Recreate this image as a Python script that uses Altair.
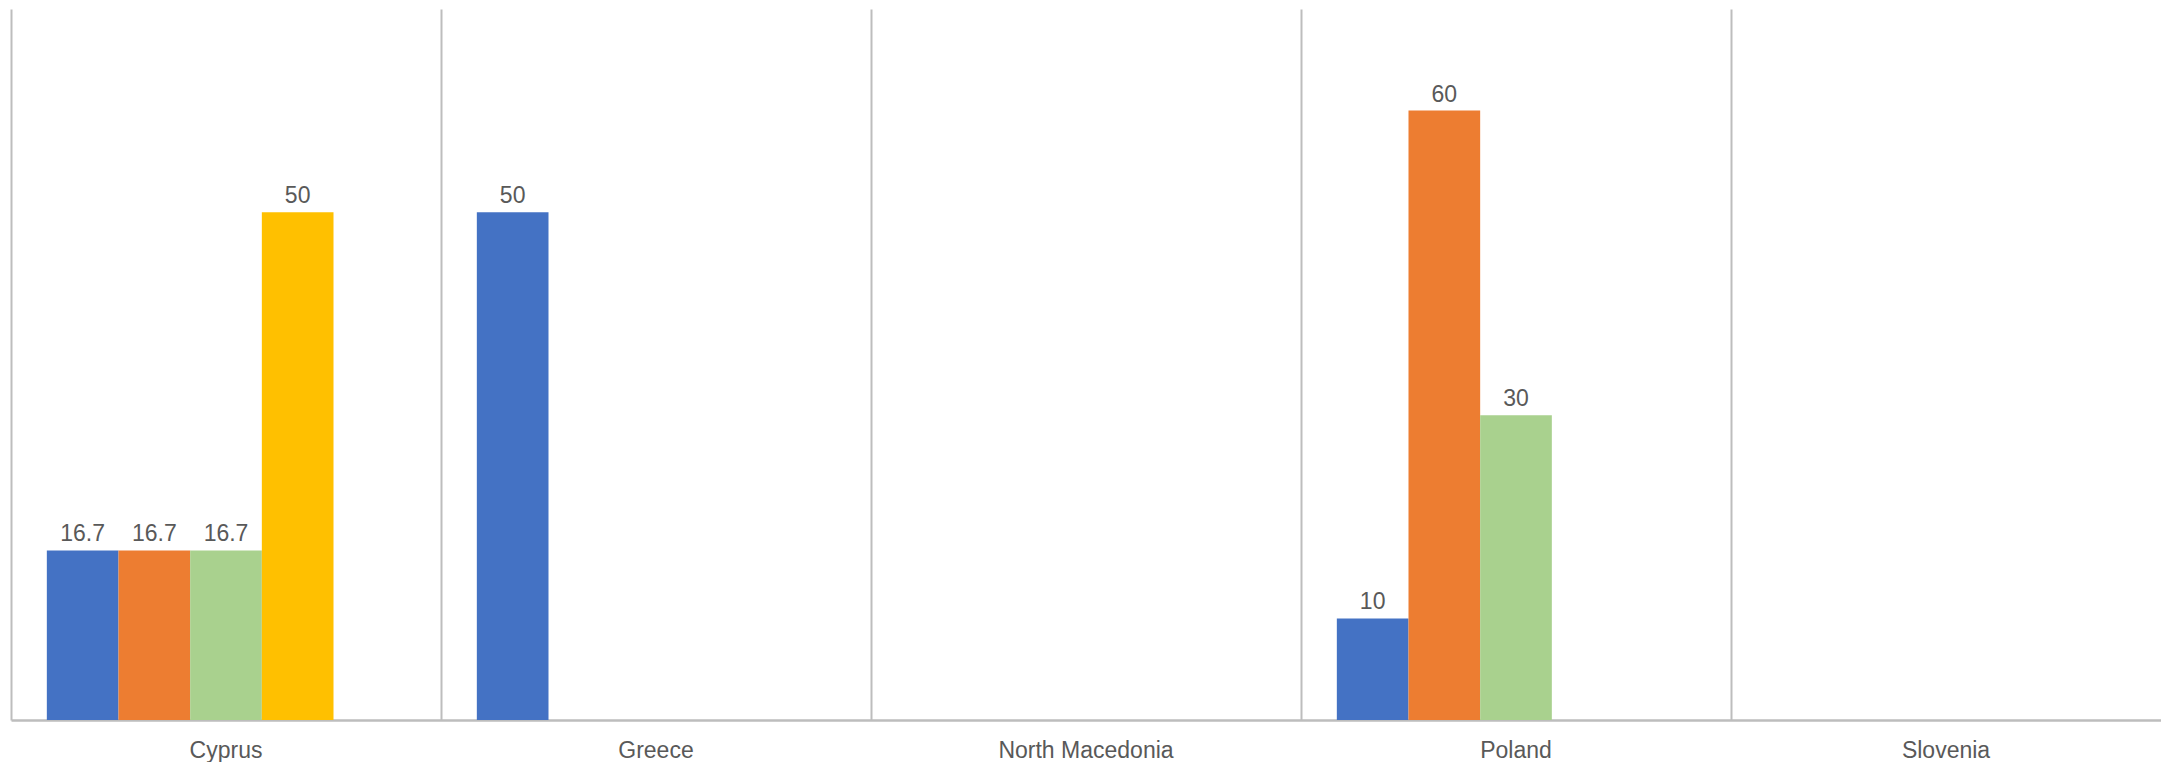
import altair as alt
import pandas as pd

categories = ["Cyprus", "Greece", "North Macedonia", "Poland", "Slovenia"]
series_names = ["Series 1", "Series 2", "Series 3", "Series 4", "Series 5"]
series_1 = [16.7, 50, None, 10, None]
series_2 = [16.7, None, None, 60, None]
series_3 = [16.7, None, None, 30, None]
series_4 = [50, None, None, None, None]
series_5 = [None, None, None, None, None]
colors = ["#4472C4", "#ED7D31", "#A9D18E", "#FFC000", "#5B9BD5"]

rows = []
for name, vals in zip(series_names, [series_1, series_2, series_3, series_4, series_5]):
    for c, v in zip(categories, vals):
        if v is not None:
            rows.append({"country": c, "series": name, "value": v})
df = pd.DataFrame(rows)

x_enc = alt.X(
    "country:N",
    scale=alt.Scale(domain=categories, paddingInner=0, paddingOuter=0),
    axis=alt.Axis(
        title=None, labelAngle=0, ticks=False, tickSize=0,
        grid=True, gridColor="#BDBDBD", gridWidth=2, bandPosition=0,
        domainColor="#BDBDBD", domainWidth=2.5,
        labelFont="Liberation Sans", labelFontSize=23, labelColor="#595959",
        labelPadding=37, labelBaseline="alphabetic",
    ),
)
xoff = alt.XOffset("series:N", scale=alt.Scale(domain=series_names, paddingInner=0, paddingOuter=0.5))
y_enc = alt.Y("value:Q", scale=alt.Scale(domain=[0, 70], nice=False, zero=True), axis=None)

base = alt.Chart(df).encode(x=x_enc, xOffset=xoff, y=y_enc)

bars = base.mark_bar().encode(
    color=alt.Color("series:N", scale=alt.Scale(domain=series_names, range=colors), legend=None)
)
labels = base.mark_text(
    dy=-9, baseline="alphabetic", font="Liberation Sans", fontSize=23, color="#595959"
).encode(text=alt.Text("value:Q", format="~g"))

chart = (
    alt.layer(bars, labels)
    .properties(width=2150, height=711, padding={"left": 3, "top": 1, "right": 0, "bottom": 0})
    .configure_view(stroke=None)
)

chart.save("out.html", embed_options={"renderer": "svg", "actions": False})
